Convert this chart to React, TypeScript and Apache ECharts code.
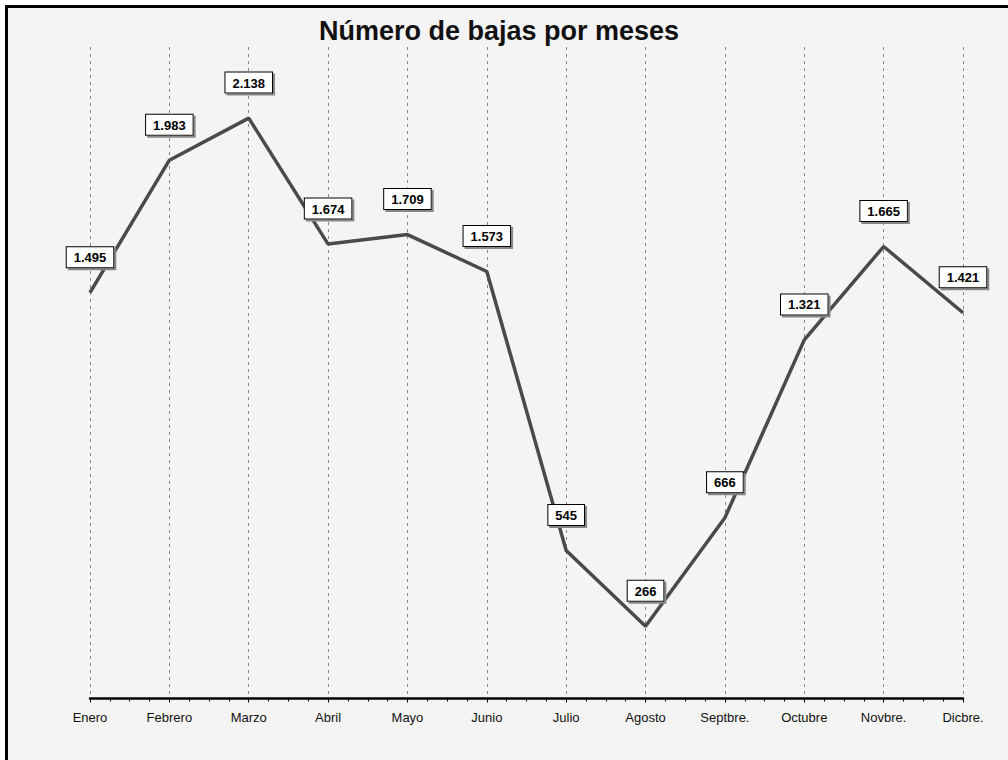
import React, { useEffect, useRef } from "react";
import * as echarts from "echarts";

const months = ["Enero", "Febrero", "Marzo", "Abril", "Mayo", "Junio", "Julio", "Agosto", "Septbre.", "Octubre", "Novbre.", "Dicbre."];
const bajas = [1495, 1983, 2138, 1674, 1709, 1573, 545, 266, 666, 1321, 1665, 1421];
const titleText = "Número de bajas por meses";

const fmt = (v: number) => String(v).replace(/\B(?=(\d{3})+(?!\d))/g, ".");

export default function App() {
  const ref = useRef<HTMLDivElement>(null);
  useEffect(() => {
    document.body.style.margin = "0";
    const chart = echarts.init(ref.current!, null, { renderer: "svg" });
    chart.setOption({
      animation: false,
      backgroundColor: "#ffffff",
      textStyle: { fontFamily: "Arial, 'Liberation Sans', sans-serif" },
      graphic: [
        {
          type: "rect",
          z: -10,
          silent: true,
          shape: { x: 6.5, y: 6.5, width: 1010, height: 760 },
          style: { fill: "#f4f4f4", stroke: "#000", lineWidth: 3 },
        },
      ],
      title: {
        text: titleText,
        left: 314,
        top: 12,
        textStyle: { fontSize: 27, fontWeight: "bold", color: "#111", fontFamily: "Arial, 'Liberation Sans', sans-serif" },
      },
      grid: { left: 90, right: 45, top: 47, bottom: 61.5 },
      xAxis: [
        {
          type: "category",
          data: months,
          boundaryGap: false,
          axisLine: { show: false },
          axisTick: { show: false },
          axisLabel: { color: "#111", fontSize: 13, margin: 12, fontFamily: "Arial, 'Liberation Sans', sans-serif" },
          splitLine: { show: true, lineStyle: { color: "#888", type: [3, 4], width: 1 } },
        },
        {
          type: "value",
          min: 0,
          max: 11,
          interval: 1,
          position: "bottom",
          axisLine: { show: true, onZero: false, lineStyle: { color: "#000", width: 2.5 } },
          axisTick: { show: true, length: 4, lineStyle: { color: "#000", width: 1 } },
          minorTick: { show: true, splitNumber: 4, length: 3, lineStyle: { color: "#000", width: 1 } },
          axisLabel: { show: false },
          splitLine: { show: false },
        },
      ],
      yAxis: {
        type: "value",
        min: 0,
        max: 2400,
        show: false,
        splitLine: { show: false },
      },
      series: [
        {
          type: "line",
          data: bajas,
          xAxisIndex: 0,
          symbol: "circle",
          symbolSize: 1,
          showSymbol: true,
          lineStyle: { color: "#4a4a4a", width: 3.5 },
          itemStyle: { color: "#4a4a4a" },
          label: {
            show: true,
            position: "top",
            distance: 25,
            formatter: (p: any) => fmt(p.value),
            color: "#000",
            fontSize: 13,
            fontWeight: "bold",
            fontFamily: "Arial, 'Liberation Sans', sans-serif",
            backgroundColor: "#ffffff",
            borderColor: "#000",
            borderWidth: 1,
            padding: [4, 7, 3, 7],
            shadowColor: "#888",
            shadowOffsetX: 2,
            shadowOffsetY: 2,
            shadowBlur: 0,
          },
        },
      ],
    });
    return () => chart.dispose();
  }, []);
  return <div ref={ref} style={{ width: 1008, height: 760 }} />;
}
